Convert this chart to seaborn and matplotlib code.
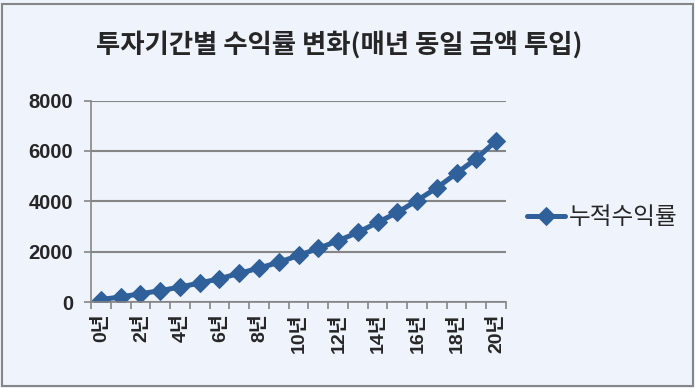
import matplotlib
matplotlib.use("Agg")
import matplotlib.pyplot as plt
import seaborn as sns
import pandas as pd
import numpy as np
from matplotlib.ticker import FixedLocator
from matplotlib.patches import Rectangle

years = list(range(21))
returns = [100, 200, 330, 450, 595, 754, 926, 1137, 1349, 1574, 1851,
           2129, 2433, 2764, 3160, 3557, 4033, 4536, 5117, 5699, 6400]
tick_years = list(range(0, 21, 2))
tick_labels = [f"{y}년" for y in tick_years]
series_name = "누적수익률"
title = "투자기간별 수익률 변화(매년 동일 금액 투입)"
yticks = [0, 2000, 4000, 6000, 8000]

sns.set_theme(style="white")
plt.rcParams['font.family'] = ['Liberation Sans', 'Noto Sans CJK KR', 'DejaVu Sans']

bg = "#EEF3FC"
line_color = "#30609A"
grid_color = "#868686"

fig = plt.figure(figsize=(6.95, 3.88), dpi=100, facecolor=bg)
ax = fig.add_axes([0.131, 0.2216, 0.597, 0.519])
ax.set_facecolor(bg)

df = pd.DataFrame({"year": years, "value": returns, "series": series_name})
sns.lineplot(data=df, x="year", y="value", hue="series", palette=[line_color],
             marker="D", markersize=9, linewidth=3.6, markeredgecolor=line_color,
             ax=ax, legend=True)

ax.set_xlim(-0.5, 20.5)
ax.set_ylim(0, 8000)
ax.set_yticks(yticks)
ax.set_yticklabels([str(v) for v in yticks], fontsize=14.5, fontweight="bold")
ax.set_xticks(tick_years)
ax.set_xticklabels(tick_labels, rotation=90, fontsize=14, fontweight="bold",
                   family=['Liberation Sans', 'Noto Sans CJK KR'])
ax.xaxis.set_minor_locator(FixedLocator(np.arange(-0.5, 21, 1)))
ax.tick_params(axis="x", which="major", length=0, pad=8)
ax.tick_params(axis="x", which="minor", length=5, width=1.2, color=grid_color, direction="out", bottom=True)
ax.tick_params(axis="y", length=5, width=1.2, color=grid_color, direction="out", left=True, pad=8)
ax.set_xlabel("")
ax.set_ylabel("")
ax.yaxis.grid(True, color=grid_color, linewidth=1.5)
ax.set_axisbelow(True)
for s in ["top", "right"]:
    ax.spines[s].set_visible(False)
for s in ["left", "bottom"]:
    ax.spines[s].set_color(grid_color)
    ax.spines[s].set_linewidth(1.2)

leg = ax.legend(loc="center left", bbox_to_anchor=(1.0, 0.42), frameon=False,
                handlelength=1.6, handletextpad=0.15,
                prop={'family': ['Noto Sans CJK KR'], 'size': 17})

fig.text(0.488, 0.885, title, ha="center", va="center", fontsize=19, fontweight="bold",
         family=['Noto Sans CJK KR'])

fig.patches.append(Rectangle((0.003, 0.005), 0.994, 0.984, transform=fig.transFigure,
                             fill=False, edgecolor="#868686", linewidth=1.5))

fig.savefig("out.png", dpi=100, facecolor=bg)
